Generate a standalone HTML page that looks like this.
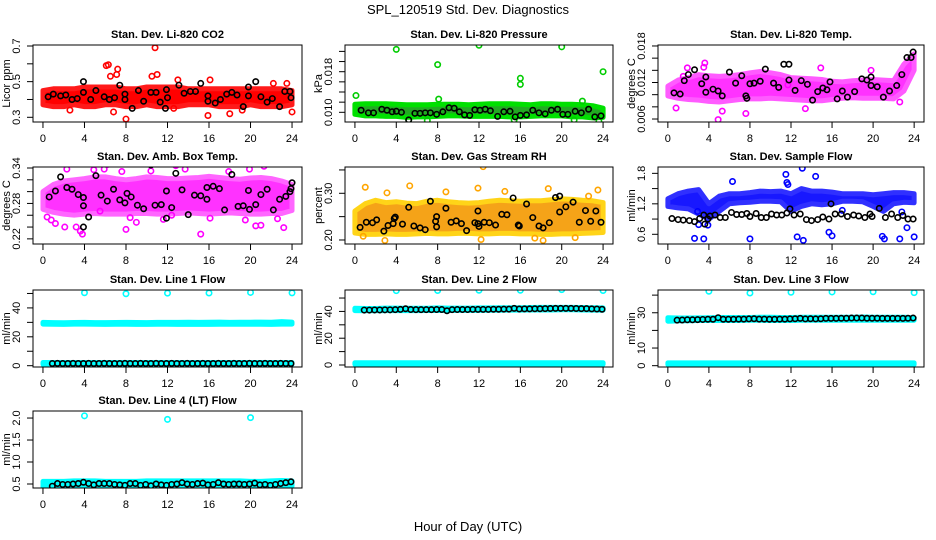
<!DOCTYPE html>
<html><head><meta charset="utf-8"><style>
html,body{margin:0;padding:0;background:#fff}
svg{display:block;font-family:"Liberation Sans",Arial,sans-serif}
</style></head><body>
<svg id="chart" width="936" height="540" viewBox="0 0 936 540" xmlns="http://www.w3.org/2000/svg">
<rect width="936" height="540" fill="#fff"/>
<text x="468" y="14" text-anchor="middle" font-size="13">SPL_120519  Std. Dev. Diagnostics</text>
<text x="468" y="531" text-anchor="middle" font-size="13">Hour of Day (UTC)</text>
</svg>
<script>
// ---------- data ----------
const hours = [0,1,2,3,4,5,6,7,8,9,10,11,12,13,14,15,16,17,18,19,20,21,22,23,24];
const xTicks = [0,4,8,12,16,20,24];

const co2Lo = [0.37,0.36,0.36,0.37,0.36,0.36,0.37,0.37,0.36,0.36,0.37,0.36,0.36,0.36,0.37,0.37,0.37,0.36,0.36,0.36,0.37,0.36,0.36,0.36,0.37];
const co2Hi = [0.45,0.46,0.46,0.46,0.47,0.47,0.47,0.47,0.46,0.46,0.47,0.47,0.47,0.47,0.46,0.46,0.46,0.46,0.46,0.46,0.46,0.46,0.46,0.46,0.45];
const co2OutX = [6.1,6.3,7.2,7.1,6.5,10.8,11.0,10.5,8.0,15.9,16.1,2.6,18.0,24.0,22.2,23.5,6.8,13.0,12.6,19.2];
const co2OutY = [0.59,0.595,0.57,0.54,0.53,0.69,0.54,0.53,0.29,0.31,0.51,0.34,0.32,0.33,0.49,0.49,0.33,0.51,0.35,0.34];
const co2BlkX = [0.5,1.0,1.7,2.2,2.8,3.3,3.9,3.9,4.6,5.1,5.9,6.4,6.9,7.4,7.9,7.9,8.6,9.2,9.7,10.4,10.9,11.3,11.8,11.9,12.0,13.1,13.6,14.2,14.7,15.2,15.9,15.9,16.6,17.1,17.7,18.2,18.7,19.3,19.8,19.8,20.5,21.0,21.6,22.1,22.8,23.3,23.8,23.9];
const co2BlkY = [0.415,0.43,0.42,0.425,0.40,0.405,0.44,0.50,0.40,0.45,0.415,0.40,0.41,0.48,0.43,0.40,0.35,0.45,0.39,0.44,0.44,0.385,0.35,0.455,0.41,0.48,0.435,0.445,0.445,0.49,0.42,0.39,0.38,0.40,0.43,0.44,0.425,0.36,0.42,0.47,0.50,0.415,0.385,0.405,0.36,0.445,0.445,0.41];

const prsLo = [0.0096,0.0093,0.0093,0.0092,0.0092,0.0090,0.0091,0.0091,0.0092,0.0093,0.0093,0.0092,0.0092,0.0092,0.0092,0.0091,0.0091,0.0092,0.0093,0.0093,0.0093,0.0091,0.0091,0.0089,0.0090];
const prsHi = [0.0116,0.0117,0.0117,0.0117,0.0116,0.0115,0.0115,0.0115,0.0116,0.0116,0.0116,0.0115,0.0116,0.0117,0.0117,0.0117,0.0116,0.0115,0.0117,0.0117,0.0116,0.0116,0.0115,0.0113,0.0108];
const prsOutX = [0.1,4.0,8.0,8.1,12.0,16.0,16.0,20.0,24.0,22.0,5.2,7.0,15.4,23.6,21.2];
const prsOutY = [0.0133,0.0224,0.0194,0.0126,0.0232,0.0167,0.0155,0.0229,0.0180,0.0122,0.0085,0.0084,0.0085,0.0082,0.0085];
const prsBlkX = [0.6,1.3,1.8,2.6,3.1,3.6,4.0,4.5,5.2,5.8,6.3,6.8,7.3,7.9,8.5,9.1,9.6,10.1,10.6,11.1,11.6,12.1,12.6,13.1,13.8,14.4,15.0,15.5,16.0,16.6,17.2,17.8,18.4,19.0,19.6,20.1,20.6,21.3,21.9,22.6,23.2,23.8];
const prsBlkY = [0.0104,0.0099,0.0099,0.0106,0.0104,0.0101,0.0102,0.0100,0.0085,0.0098,0.0098,0.0099,0.0099,0.0096,0.0101,0.0109,0.0108,0.0101,0.0095,0.0094,0.0105,0.0104,0.0106,0.0103,0.0092,0.0101,0.0102,0.0091,0.0094,0.0095,0.0104,0.0099,0.0097,0.0104,0.0106,0.0096,0.0096,0.0102,0.0099,0.0106,0.0091,0.0093];

const tmpLo = [0.0098,0.0094,0.0092,0.0091,0.0089,0.0088,0.0090,0.0092,0.0093,0.0093,0.0094,0.0093,0.0092,0.0091,0.0090,0.0090,0.0092,0.0094,0.0095,0.0094,0.0094,0.0094,0.0093,0.0106,0.0140];
const tmpHi = [0.0114,0.0124,0.0128,0.0133,0.0131,0.0130,0.0131,0.0133,0.0136,0.0138,0.0136,0.0133,0.0128,0.0127,0.0126,0.0125,0.0122,0.0121,0.0123,0.0124,0.0125,0.0124,0.0123,0.0150,0.0167];
const tmpOutX = [0.8,1.9,3.6,4.9,5.3,7.6,11.7,13.4,14.9,19.8,22.6,3.5,1.5];
const tmpOutY = [0.0078,0.0144,0.0152,0.0059,0.0073,0.0069,0.0116,0.0077,0.0144,0.0140,0.0088,0.0145,0.0130];
const tmpBlkX = [0.6,1.2,1.6,2.0,2.6,3.3,3.7,3.7,4.4,4.9,5.3,6.0,6.6,7.2,7.6,7.7,8.0,8.4,9.0,9.5,10.3,10.8,11.3,11.8,11.8,12.4,13.0,13.6,14.1,14.6,15.1,15.5,15.8,16.5,17.0,17.5,18.2,18.9,19.4,19.8,19.8,20.4,21.0,21.6,22.3,22.8,23.3,23.7,23.9];
const tmpBlkY = [0.0103,0.0101,0.0123,0.0133,0.0141,0.0118,0.0129,0.0104,0.0109,0.0106,0.0098,0.0137,0.0119,0.0131,0.0098,0.0094,0.0118,0.0119,0.0122,0.0142,0.0119,0.0112,0.0150,0.0150,0.0124,0.0107,0.0123,0.0117,0.0091,0.0105,0.0111,0.0108,0.0121,0.0093,0.0106,0.0096,0.0105,0.0126,0.0124,0.0129,0.0115,0.0113,0.0096,0.0106,0.0115,0.0133,0.0161,0.0161,0.0170];

const ambLo = [0.270,0.265,0.262,0.260,0.262,0.263,0.262,0.262,0.262,0.263,0.263,0.262,0.262,0.263,0.264,0.263,0.262,0.263,0.264,0.263,0.262,0.262,0.263,0.263,0.268];
const ambHi = [0.300,0.312,0.318,0.320,0.322,0.325,0.325,0.322,0.320,0.322,0.325,0.324,0.322,0.322,0.323,0.324,0.326,0.324,0.322,0.321,0.323,0.324,0.322,0.318,0.312];
const ambOutX = [0.4,0.8,1.2,2.1,3.2,3.6,3.8,6.2,4.9,5.5,8.0,8.4,9.0,11.6,12.4,12.8,15.2,16.1,15.0,19.5,20.5,21.0,21.3,22.6,23.2,2.3,5.9,7.6,10.4,13.7,17.9,19.9];
const ambOutY = [0.257,0.252,0.246,0.240,0.240,0.233,0.228,0.346,0.337,0.267,0.236,0.256,0.248,0.253,0.260,0.344,0.228,0.255,0.348,0.252,0.242,0.243,0.343,0.254,0.239,0.338,0.338,0.334,0.335,0.338,0.334,0.338];
const ambBlkX = [0.6,1.2,1.7,2.3,2.8,3.4,3.9,3.9,3.9,4.4,5.1,5.6,6.2,6.8,7.4,7.9,8.1,8.5,9.1,9.7,10.4,10.8,11.4,11.9,11.9,12.4,12.8,13.4,14.0,14.6,15.2,15.8,15.8,16.4,17.0,17.5,18.2,18.8,19.3,19.8,19.9,20.5,21.0,21.6,22.2,22.8,23.4,23.8,23.9,24.0];
const ambBlkY = [0.291,0.301,0.325,0.307,0.304,0.295,0.290,0.276,0.240,0.257,0.327,0.294,0.284,0.304,0.286,0.281,0.297,0.291,0.277,0.271,0.345,0.277,0.278,0.301,0.255,0.273,0.331,0.303,0.261,0.294,0.293,0.307,0.287,0.309,0.305,0.269,0.329,0.275,0.276,0.302,0.270,0.278,0.295,0.304,0.269,0.287,0.292,0.300,0.305,0.315];

const rhLo = [0.215,0.212,0.212,0.213,0.212,0.212,0.213,0.214,0.213,0.213,0.214,0.214,0.213,0.213,0.214,0.214,0.213,0.213,0.212,0.212,0.213,0.213,0.214,0.215,0.216];
const rhHi = [0.262,0.278,0.285,0.280,0.282,0.279,0.278,0.283,0.285,0.282,0.280,0.279,0.280,0.283,0.285,0.284,0.283,0.284,0.284,0.286,0.288,0.287,0.285,0.284,0.280];
const rhOutX = [1.0,3.1,5.3,8.8,11.9,12.4,12.2,14.5,17.4,18.2,18.7,21.3,22.6,23.5,0.8,2.9];
const rhOutY = [0.313,0.301,0.316,0.303,0.311,0.357,0.201,0.304,0.204,0.199,0.310,0.205,0.294,0.307,0.208,0.199];
const rhBlkX = [0.5,1.1,1.7,2.1,2.8,3.2,3.7,3.8,3.9,4.6,5.2,5.7,6.3,6.8,7.3,7.8,7.9,7.9,8.8,9.3,9.8,10.3,10.8,11.6,11.9,11.9,12.0,12.5,13.0,13.6,14.2,14.7,15.3,15.8,15.9,16.6,17.2,17.8,18.2,18.8,19.4,19.8,19.8,20.4,21.1,21.7,22.3,22.8,23.3,23.8];
const rhBlkY = [0.227,0.238,0.237,0.243,0.219,0.231,0.235,0.246,0.249,0.234,0.270,0.230,0.226,0.222,0.283,0.240,0.250,0.228,0.268,0.238,0.241,0.235,0.220,0.237,0.262,0.235,0.229,0.238,0.237,0.232,0.255,0.254,0.290,0.232,0.230,0.277,0.248,0.230,0.226,0.237,0.291,0.294,0.260,0.271,0.281,0.238,0.263,0.240,0.262,0.238];

const flwLo = [1.15,1.12,1.10,1.00,0.90,1.05,1.20,1.22,1.23,1.25,1.25,1.24,1.05,1.15,1.20,1.18,1.20,1.25,1.25,1.24,1.15,1.05,1.20,1.23,1.22];
const flwHi = [1.30,1.40,1.45,1.48,1.20,1.35,1.40,1.40,1.42,1.45,1.44,1.45,1.40,1.50,1.45,1.45,1.43,1.40,1.40,1.40,1.38,1.40,1.42,1.42,1.40];
const flwOutX = [2.6,3.5,3.0,6.3,8.0,11.5,11.7,12.6,13.1,13.2,14.4,15.7,16.0,17.0,20.9,21.1,22.6,22.8,23.3,24.0,3.9,11.6,2.9];
const flwOutY = [0.52,0.51,0.79,1.64,0.51,1.78,1.58,0.55,1.90,0.48,1.74,0.64,0.57,1.07,0.56,0.51,0.51,1.04,0.73,0.55,0.78,1.62,1.05];
const flwBlkX = [0.4,1.0,1.5,2.1,2.6,3.1,3.5,3.6,3.9,4.1,4.6,5.1,5.6,6.2,6.7,7.2,7.7,8.0,8.6,9.1,9.6,10.1,10.6,11.1,11.6,11.9,12.3,12.9,13.5,14.0,14.6,15.1,15.7,15.9,16.3,16.9,17.5,18.1,18.6,19.2,19.7,19.9,20.6,21.2,21.8,22.4,22.9,23.4,23.9];
const flwBlkY = [0.91,0.89,0.88,0.87,0.85,0.91,0.98,0.80,0.90,0.96,0.98,0.93,0.93,1.03,0.99,0.99,1.01,0.95,1.01,0.93,0.93,1.00,0.98,0.98,1.02,1.10,0.98,1.00,0.89,0.87,0.89,0.94,0.90,1.20,1.00,1.00,0.95,0.98,0.96,0.93,1.00,0.95,1.11,0.93,1.00,0.93,0.97,0.90,0.90];

const l1CyanHi = [30,29.8,29.7,29.9,30,29.8,29.8,29.9,30,29.9,29.8,30,30,30,30.1,30,30.1,30.2,30,30.1,30.1,30.2,30.1,30.5,30.2];
const l1CyanLo = [28.8,28.7,28.6,28.8,28.8,28.7,28.6,28.7,28.7,28.6,28.6,28.7,28.7,28.6,28.7,28.6,28.6,28.7,28.7,28.7,28.7,28.7,28.6,28.8,28.8];
const l1OutX = [4,8,12,16,20,24];
const l1OutY = [50.5,49.8,50.2,50.3,50.7,50.4];
const l1Blk = [1.5,1.6,1.5,1.5,1.6,1.5,1.5,1.6,1.5,1.5,1.6,1.5,1.5,1.5,1.6,1.5,1.5,1.6,1.5,1.5,1.6,1.5,1.5,1.6,1.5,1.5,1.6,1.5,1.5,1.6,1.5,1.5,1.6,1.5,1.5,1.6,1.5,1.5,1.6,1.5,1.5,1.6,1.5,1.5,1.6,1.5,1.5];

const l2CyanHi = [42.3,42.2,42.2,42.5,42.5,42.4,42.3,42.4,42.6,42.5,42.5,42.5,42.6,42.6,42.7,42.8,42.8,42.9,43.0,43.0,43.0,43.0,42.9,42.8,42.6];
const l2CyanLo = [40.6,40.5,40.5,40.6,40.6,40.6,40.6,40.7,40.7,40.7,40.8,40.8,40.8,40.9,40.9,41.0,41.0,41.1,41.1,41.1,41.2,41.2,41.1,41.0,40.9];
const l2OutX = [4,8,12,16,20,24];
const l2OutY = [55.5,55.6,55.8,55.8,56.3,55.6];
const l2Blk = [41.0,41.0,41.1,41.1,41.2,41.2,41.3,41.5,42.0,41.4,41.3,41.3,41.3,41.3,41.4,41.4,40.5,41.3,41.4,41.4,41.4,41.5,41.5,41.5,41.5,41.6,41.6,41.7,41.7,42.3,41.8,41.9,41.9,42.0,42.0,42.1,42.2,42.3,42.3,42.3,42.3,42.2,42.1,42.1,41.9,41.8,41.6];

const l3CyanHi = [27.2,27.0,27.0,27.1,27.2,27.3,27.3,27.3,27.3,27.4,27.4,27.3,27.3,27.4,27.4,27.4,27.5,27.5,27.5,27.6,27.5,27.5,27.5,27.4,27.2];
const l3CyanLo = [25.2,25.4,25.5,25.6,25.6,25.6,25.6,25.6,25.7,25.7,25.6,25.6,25.6,25.7,25.7,25.7,25.8,25.8,25.8,25.8,25.8,25.8,25.8,25.8,25.8];
const l3OutX = [4,8,12,16,20,24];
const l3OutY = [42.2,41.2,41.6,41.8,41.9,41.4];
const l3Blk = [25.8,25.9,26.0,26.0,26.1,26.2,26.3,26.3,27.2,26.3,26.3,26.3,26.4,26.4,26.5,26.6,26.4,26.4,26.3,26.3,26.4,26.4,26.5,26.6,26.8,26.5,26.6,26.5,26.6,26.8,26.8,26.8,26.9,26.9,27.0,27.0,27.0,26.9,26.9,26.9,26.8,26.8,26.8,26.8,26.8,26.9,27.0];

const l4CyanHi = [0.56,0.56,0.56,0.57,0.57,0.57,0.56,0.56,0.56,0.56,0.57,0.57,0.57,0.57,0.57,0.57,0.57,0.57,0.57,0.57,0.56,0.56,0.57,0.58,0.57];
const l4CyanLo = [0.44,0.44,0.44,0.45,0.45,0.45,0.44,0.44,0.44,0.44,0.44,0.44,0.44,0.44,0.44,0.44,0.44,0.44,0.44,0.44,0.44,0.44,0.44,0.45,0.45];
const l4OutX = [4,12,20];
const l4OutY = [2.05,1.97,2.01];
const l4Blk = [0.45,0.51,0.49,0.49,0.50,0.51,0.54,0.51,0.48,0.51,0.51,0.51,0.49,0.48,0.47,0.51,0.51,0.47,0.49,0.46,0.50,0.48,0.47,0.49,0.50,0.53,0.50,0.49,0.51,0.52,0.48,0.49,0.53,0.50,0.49,0.50,0.50,0.49,0.50,0.52,0.48,0.49,0.47,0.49,0.51,0.53,0.55];

// ---------- layout ----------
const svg = document.getElementById('chart');
const NS = 'http://www.w3.org/2000/svg';
function mk(tag, attrs, parent){
  const e = document.createElementNS(NS, tag);
  for (const k in attrs) e.setAttribute(k, attrs[k]);
  (parent||svg).appendChild(e);
  return e;
}
const cols = [[33,302],[345,613],[658,924]];
const rows = [[45,122],[167,244],[290,367],[411,488]];

function lineX(n, start, end){ const a=[]; for(let i=0;i<n;i++) a.push(start+(end-start)*i/(n-1)); return a; }

function panel(p){
  const [x0,x1] = cols[p.c], [y0,y1] = rows[p.r];
  const g = mk('g', {});
  
  
  const xs = v => x0 + (v + 0.96) / 25.92 * (x1 - x0);
  const ys = v => y1 - (v - p.ymin) / (p.ymax - p.ymin) * (y1 - y0);
  const clip = 'clip-' + p.name;
  const cp = mk('clipPath', {id: clip}, g);
  mk('rect', {x:x0, y:y0, width:x1-x0, height:y1-y0}, cp);
  const pg = mk('g', {'clip-path':'url(#'+clip+')'}, g);
  (p.bands||[]).forEach(b => {
    let d = '';
    hours.forEach((h,i) => { d += (i?'L':'M') + xs(h).toFixed(1) + ',' + ys(b.hi[i]).toFixed(1); });
    for (let i = hours.length-1; i >= 0; i--) d += 'L' + xs(hours[i]).toFixed(1) + ',' + ys(b.lo[i]).toFixed(1);
    const band = mk('path', {d: d+'Z', fill: b.fill, stroke: b.stroke, 'stroke-width': 5, 'stroke-linejoin':'round', opacity: b.op||1}, pg);
    
    
  });
  (p.outX||[]).forEach((v,i) => {
    const c = mk('circle', {cx: xs(v), cy: ys(p.outY[i]), r: 2.7, fill: 'none', stroke: p.color, 'stroke-width': 1.6}, pg);
    
    
  });
  p.blkY.forEach((v,i) => {
    const c = mk('circle', {cx: xs(p.blkX[i]), cy: ys(v), r: 2.7, fill: 'none', stroke: '#000', 'stroke-width': 1.6}, pg);
    
    
  });
  mk('rect', {x:x0, y:y0, width:x1-x0, height:y1-y0, fill:'none', stroke:'#000', 'stroke-width':1}, g);
  const t = mk('text', {x:(x0+x1)/2, y:y0-7, 'text-anchor':'middle', 'font-size':11, 'font-weight':'bold'}, g);
  t.textContent = p.title;
  
  
  xTicks.forEach(v => {
    mk('line', {x1:xs(v), x2:xs(v), y1:y1, y2:y1+6, stroke:'#000'}, g);
    const l = mk('text', {x:xs(v), y:y1+20, 'text-anchor':'middle', 'font-size':11}, g);
    l.textContent = v;
    
    
  });
  p.yTicks.forEach(v => mk('line', {x1:x0-6, x2:x0, y1:ys(v), y2:ys(v), stroke:'#000'}, g));
  p.yLabels.forEach(v => {
    const l = mk('text', {x:0, y:0, 'text-anchor':'middle', 'font-size':11, transform:'translate('+(x0-13)+','+ys(v)+') rotate(-90)'}, g);
    l.textContent = v;
    
    
  });
  const a = mk('text', {x:0, y:0, 'text-anchor':'middle', 'font-size':11, transform:'translate('+(x0-23)+','+((y0+y1)/2)+') rotate(-90)'}, g);
  a.textContent = p.ytitle;
  
  
}

const n47 = lineX(47, 0.9, 23.9);

panel({name:'co2-panel', c:0, r:0, title:'Stan. Dev. Li-820 CO2', ytitle:'Licor ppm', ymin:0.2736, ymax:0.7056,
  yTicks:[0.3,0.4,0.5,0.6,0.7], yLabels:['0.3','0.5','0.7'], color:'#ff0000',
  bands:[{lo:co2Lo, hi:co2Hi, fill:'#ff0000', stroke:'#ff1a1a'}], outX:co2OutX, outY:co2OutY, blkX:co2BlkX, blkY:co2BlkY});
panel({name:'pressure-panel', c:1, r:0, title:'Stan. Dev. Li-820 Pressure', ytitle:'kPa', ymin:0.00809, ymax:0.02326,
  yTicks:[0.010,0.012,0.014,0.016,0.018,0.020,0.022], yLabels:['0.010','0.018'], color:'#00cc00',
  bands:[{lo:prsLo, hi:prsHi, fill:'#22aa22', stroke:'#00e000'}], outX:prsOutX, outY:prsOutY, blkX:prsBlkX, blkY:prsBlkY});
panel({name:'temp-panel', c:2, r:0, title:'Stan. Dev. Li-820 Temp.', ytitle:'degrees C', ymin:0.00551, ymax:0.01816,
  yTicks:[0.006,0.008,0.010,0.012,0.014,0.016,0.018], yLabels:['0.006','0.012','0.018'], color:'#ff00ff',
  bands:[{lo:tmpLo, hi:tmpHi, fill:'#ff00ff', stroke:'#ff33ff', op:0.8}], outX:tmpOutX, outY:tmpOutY, blkX:tmpBlkX, blkY:tmpBlkY});
panel({name:'amb-box-panel', c:0, r:1, title:'Stan. Dev. Amb. Box Temp.', ytitle:'degrees C', ymin:0.2113, ymax:0.3417,
  yTicks:[0.22,0.24,0.26,0.28,0.30,0.32,0.34], yLabels:['0.22','0.28','0.34'], color:'#ff00ff',
  bands:[{lo:ambLo, hi:ambHi, fill:'#ff00ff', stroke:'#ff40ff', op:0.8}], outX:ambOutX, outY:ambOutY, blkX:ambBlkX, blkY:ambBlkY});
panel({name:'rh-panel', c:1, r:1, title:'Stan. Dev. Gas Stream RH', ytitle:'percent', ymin:0.1914, ymax:0.3563,
  yTicks:[0.20,0.25,0.30,0.35], yLabels:['0.20','0.30'], color:'#ffa500',
  bands:[{lo:rhLo, hi:rhHi, fill:'#f59a00', stroke:'#ffd000', op:0.9}], outX:rhOutX, outY:rhOutY, blkX:rhBlkX, blkY:rhBlkY});
panel({name:'sample-flow-panel', c:2, r:1, title:'Stan. Dev. Sample Flow', ytitle:'ml/min', ymin:0.409, ymax:1.925,
  yTicks:[0.6,0.9,1.2,1.5,1.8], yLabels:['0.6','1.2','1.8'], color:'#0000ff',
  bands:[{lo:flwLo, hi:flwHi, fill:'#0000ff', stroke:'#1a1aff', op:0.9}], outX:flwOutX, outY:flwOutY, blkX:flwBlkX, blkY:flwBlkY});
panel({name:'line1-panel', c:0, r:2, title:'Stan. Dev. Line 1 Flow', ytitle:'ml/min', ymin:-0.9, ymax:52.4,
  yTicks:[0,10,20,30,40,50], yLabels:['0','20','40'], color:'#00ffff',
  bands:[{lo:l1CyanLo, hi:l1CyanHi, fill:'#00ffff', stroke:'#00ffff'}, {lo:hours.map(()=>1.0), hi:hours.map(()=>2.2), fill:'#00ffff', stroke:'#00ffff'}],
  outX:l1OutX, outY:l1OutY, blkX:n47, blkY:l1Blk});
panel({name:'line2-panel', c:1, r:2, title:'Stan. Dev. Line 2 Flow', ytitle:'ml/min', ymin:-1.5, ymax:56,
  yTicks:[0,10,20,30,40,50], yLabels:['0','20','40'], color:'#00ffff',
  bands:[{lo:l2CyanLo, hi:l2CyanHi, fill:'#00ffff', stroke:'#00ffff'}, {lo:hours.map(()=>0.5), hi:hours.map(()=>1.6), fill:'#00ffff', stroke:'#00ffff'}],
  outX:l2OutX, outY:l2OutY, blkX:n47, blkY:l2Blk});
panel({name:'line3-panel', c:2, r:2, title:'Stan. Dev. Line 3 Flow', ytitle:'ml/min', ymin:-0.75, ymax:42.9,
  yTicks:[0,10,20,30,40], yLabels:['0','10','30'], color:'#00ffff',
  bands:[{lo:l3CyanLo, hi:l3CyanHi, fill:'#00ffff', stroke:'#00ffff'}, {lo:hours.map(()=>0.6), hi:hours.map(()=>1.6), fill:'#00ffff', stroke:'#00ffff'}],
  outX:l3OutX, outY:l3OutY, blkX:n47, blkY:l3Blk});
panel({name:'line4-panel', c:0, r:3, title:'Stan. Dev. Line 4 (LT) Flow', ytitle:'ml/min', ymin:0.409, ymax:2.16,
  yTicks:[0.5,1.0,1.5,2.0], yLabels:['0.5','1.0','1.5','2.0'], color:'#00ffff',
  bands:[{lo:l4CyanLo, hi:l4CyanHi, fill:'#00ffff', stroke:'#00ffff'}],
  outX:l4OutX, outY:l4OutY, blkX:n47, blkY:l4Blk});
</script>
</body></html>
